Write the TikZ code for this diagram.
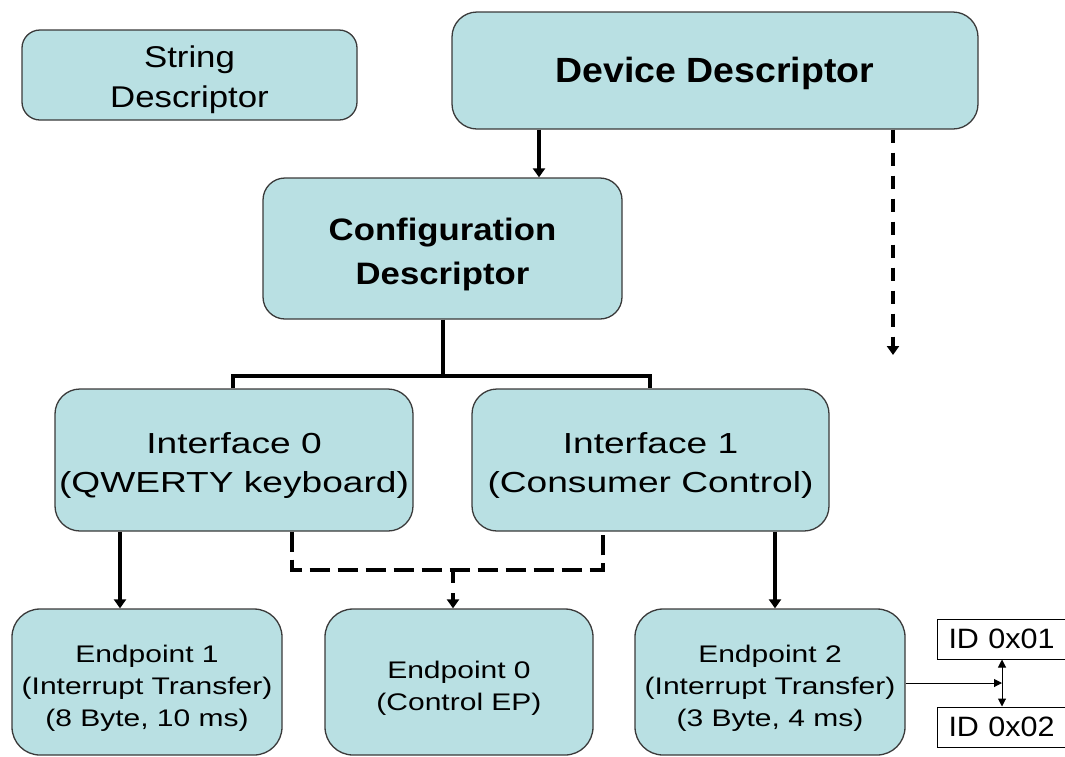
\documentclass[tikz,border=0pt]{standalone}
\usepackage{fontspec}
\setmainfont{Liberation Sans}
\usetikzlibrary{arrows.meta}
% Wide-set sans faces for the different box labels
\newfontfamily\fdev[FakeStretch=1.07]{Liberation Sans}
\newfontfamily\fcfg[FakeStretch=1.12]{Liberation Sans}
\newfontfamily\fstr[FakeStretch=1.16]{Liberation Sans}
\newfontfamily\fif[FakeStretch=1.28]{Liberation Sans}
\newfontfamily\fep[FakeStretch=1.25]{Liberation Sans}
\newfontfamily\fid[FakeStretch=1.09]{Liberation Sans}
\definecolor{boxfill}{HTML}{B9E0E3}
\definecolor{boxline}{HTML}{3A3A3A}
% centred label block, set slightly below the box centre
\newcommand{\boxtext}[2][5pt]{\raisebox{-#1}[\height][\depth]{\begin{tabular}{@{}c@{}}#2\end{tabular}}}
\begin{document}
\begin{tikzpicture}[x=1pt,y=-1pt,
  desc/.style={draw=boxline, line width=1.3pt, fill=boxfill, rectangle,
    inner sep=0pt},
  idbox/.style={draw=black, line width=1pt, fill=white, rectangle,
    inner xsep=11pt, inner ysep=0pt, minimum height=40pt,
    text width=116pt, align=left, anchor=west,
    font={\fid\fontsize{28}{32}\selectfont}},
  conn/.style={line width=3.8pt, draw=black},
  tip/.style={-{Triangle[length=9pt,width=12pt]}},
  dashlong/.style={dash pattern=on 20pt off 8pt},
  dashshort/.style={dash pattern=on 13pt off 10pt},
  thin/.style={line width=1pt, draw=black},
  thintip/.style={-{Triangle[length=8pt,width=8pt]}},
  epfont/.style={font={\fep\fontsize{24}{32}\selectfont}},
  iffont/.style={font={\fif\fontsize{29}{39}\selectfont}},
]
\useasboundingbox (0,0) rectangle (1065,756);
\clip (0,0) rectangle (1065,756);

% descriptor boxes
\node[desc, minimum width=335pt, minimum height=90pt, rounded corners=18pt,
  font={\fstr\fontsize{30}{40}\selectfont}]
  (str) at (189.5,75) {\boxtext[4pt]{String\\Descriptor}};
\node[desc, minimum width=526pt, minimum height=117pt, rounded corners=25pt,
  font={\fdev\bfseries\fontsize{35}{40}\selectfont}]
  (dev) at (715,70.5) {\boxtext[4pt]{Device Descriptor}};
\node[desc, minimum width=359pt, minimum height=141pt, rounded corners=22pt,
  font={\fcfg\bfseries\fontsize{31}{44}\selectfont}]
  (cfg) at (442.5,248.5) {\boxtext{Configuration\\Descriptor}};
\node[desc, iffont, minimum width=358pt, minimum height=142pt, rounded corners=25pt]
  (if0) at (234,460) {\boxtext{Interface 0\\(QWERTY keyboard)}};
\node[desc, iffont, minimum width=357pt, minimum height=142pt, rounded corners=25pt]
  (if1) at (650.5,460) {\boxtext{Interface 1\\(Consumer Control)}};
\node[desc, epfont, minimum width=270pt, minimum height=146pt, rounded corners=28pt]
  (ep1) at (147,682) {\boxtext[6pt]{Endpoint 1\\(Interrupt Transfer)\\(8 Byte, 10 ms)}};
\node[desc, epfont, minimum width=268pt, minimum height=146pt, rounded corners=28pt]
  (ep0) at (459,682) {\boxtext[6pt]{Endpoint 0\\(Control EP)}};
\node[desc, epfont, minimum width=270pt, minimum height=146pt, rounded corners=28pt]
  (ep2) at (770,682) {\boxtext[6pt]{Endpoint 2\\(Interrupt Transfer)\\(3 Byte, 4 ms)}};

% report ID boxes
\node[idbox] (id1) at (937,639) {ID 0x01};
\node[idbox] (id2) at (937,727) {ID 0x02};

% helper points
\coordinate (devend) at (893,355);
\coordinate (bar) at (443,376);
\coordinate (dbar) at (453,570);
\coordinate (idmid) at (1002,683);

% solid tree connectors
\draw[conn, tip] (539,0 |- dev.south) -- (539,0 |- cfg.north);
\draw[conn] (bar |- cfg.south) -- (bar);
\draw[conn] (233,0 |- if0.north) -- (233,0 |- bar) -- (650,0 |- bar) -- (650,0 |- if1.north);
\draw[conn, tip] (120,0 |- if0.south) -- (120,0 |- ep1.north);
\draw[conn, tip] (775,0 |- if1.south) -- (775,0 |- ep2.north);

% dashed connectors
\draw[conn, dashshort, tip] (893,0 |- dev.south) -- (devend);
\draw[conn, dashlong] (292,0 |- if0.south) -- (292,0 |- dbar) -- (603,0 |- dbar) -- (603,0 |- if1.south);
\draw[conn, dashshort, tip] (dbar) -- (dbar |- ep0.north);

% report ID selection
\draw[thin, thintip] (ep2.east |- idmid) -- (idmid);
\draw[thin, thintip] (idmid) -- (idmid |- id1.south);
\draw[thin, thintip] (idmid) -- (idmid |- id2.north);
\end{tikzpicture}
\end{document}
